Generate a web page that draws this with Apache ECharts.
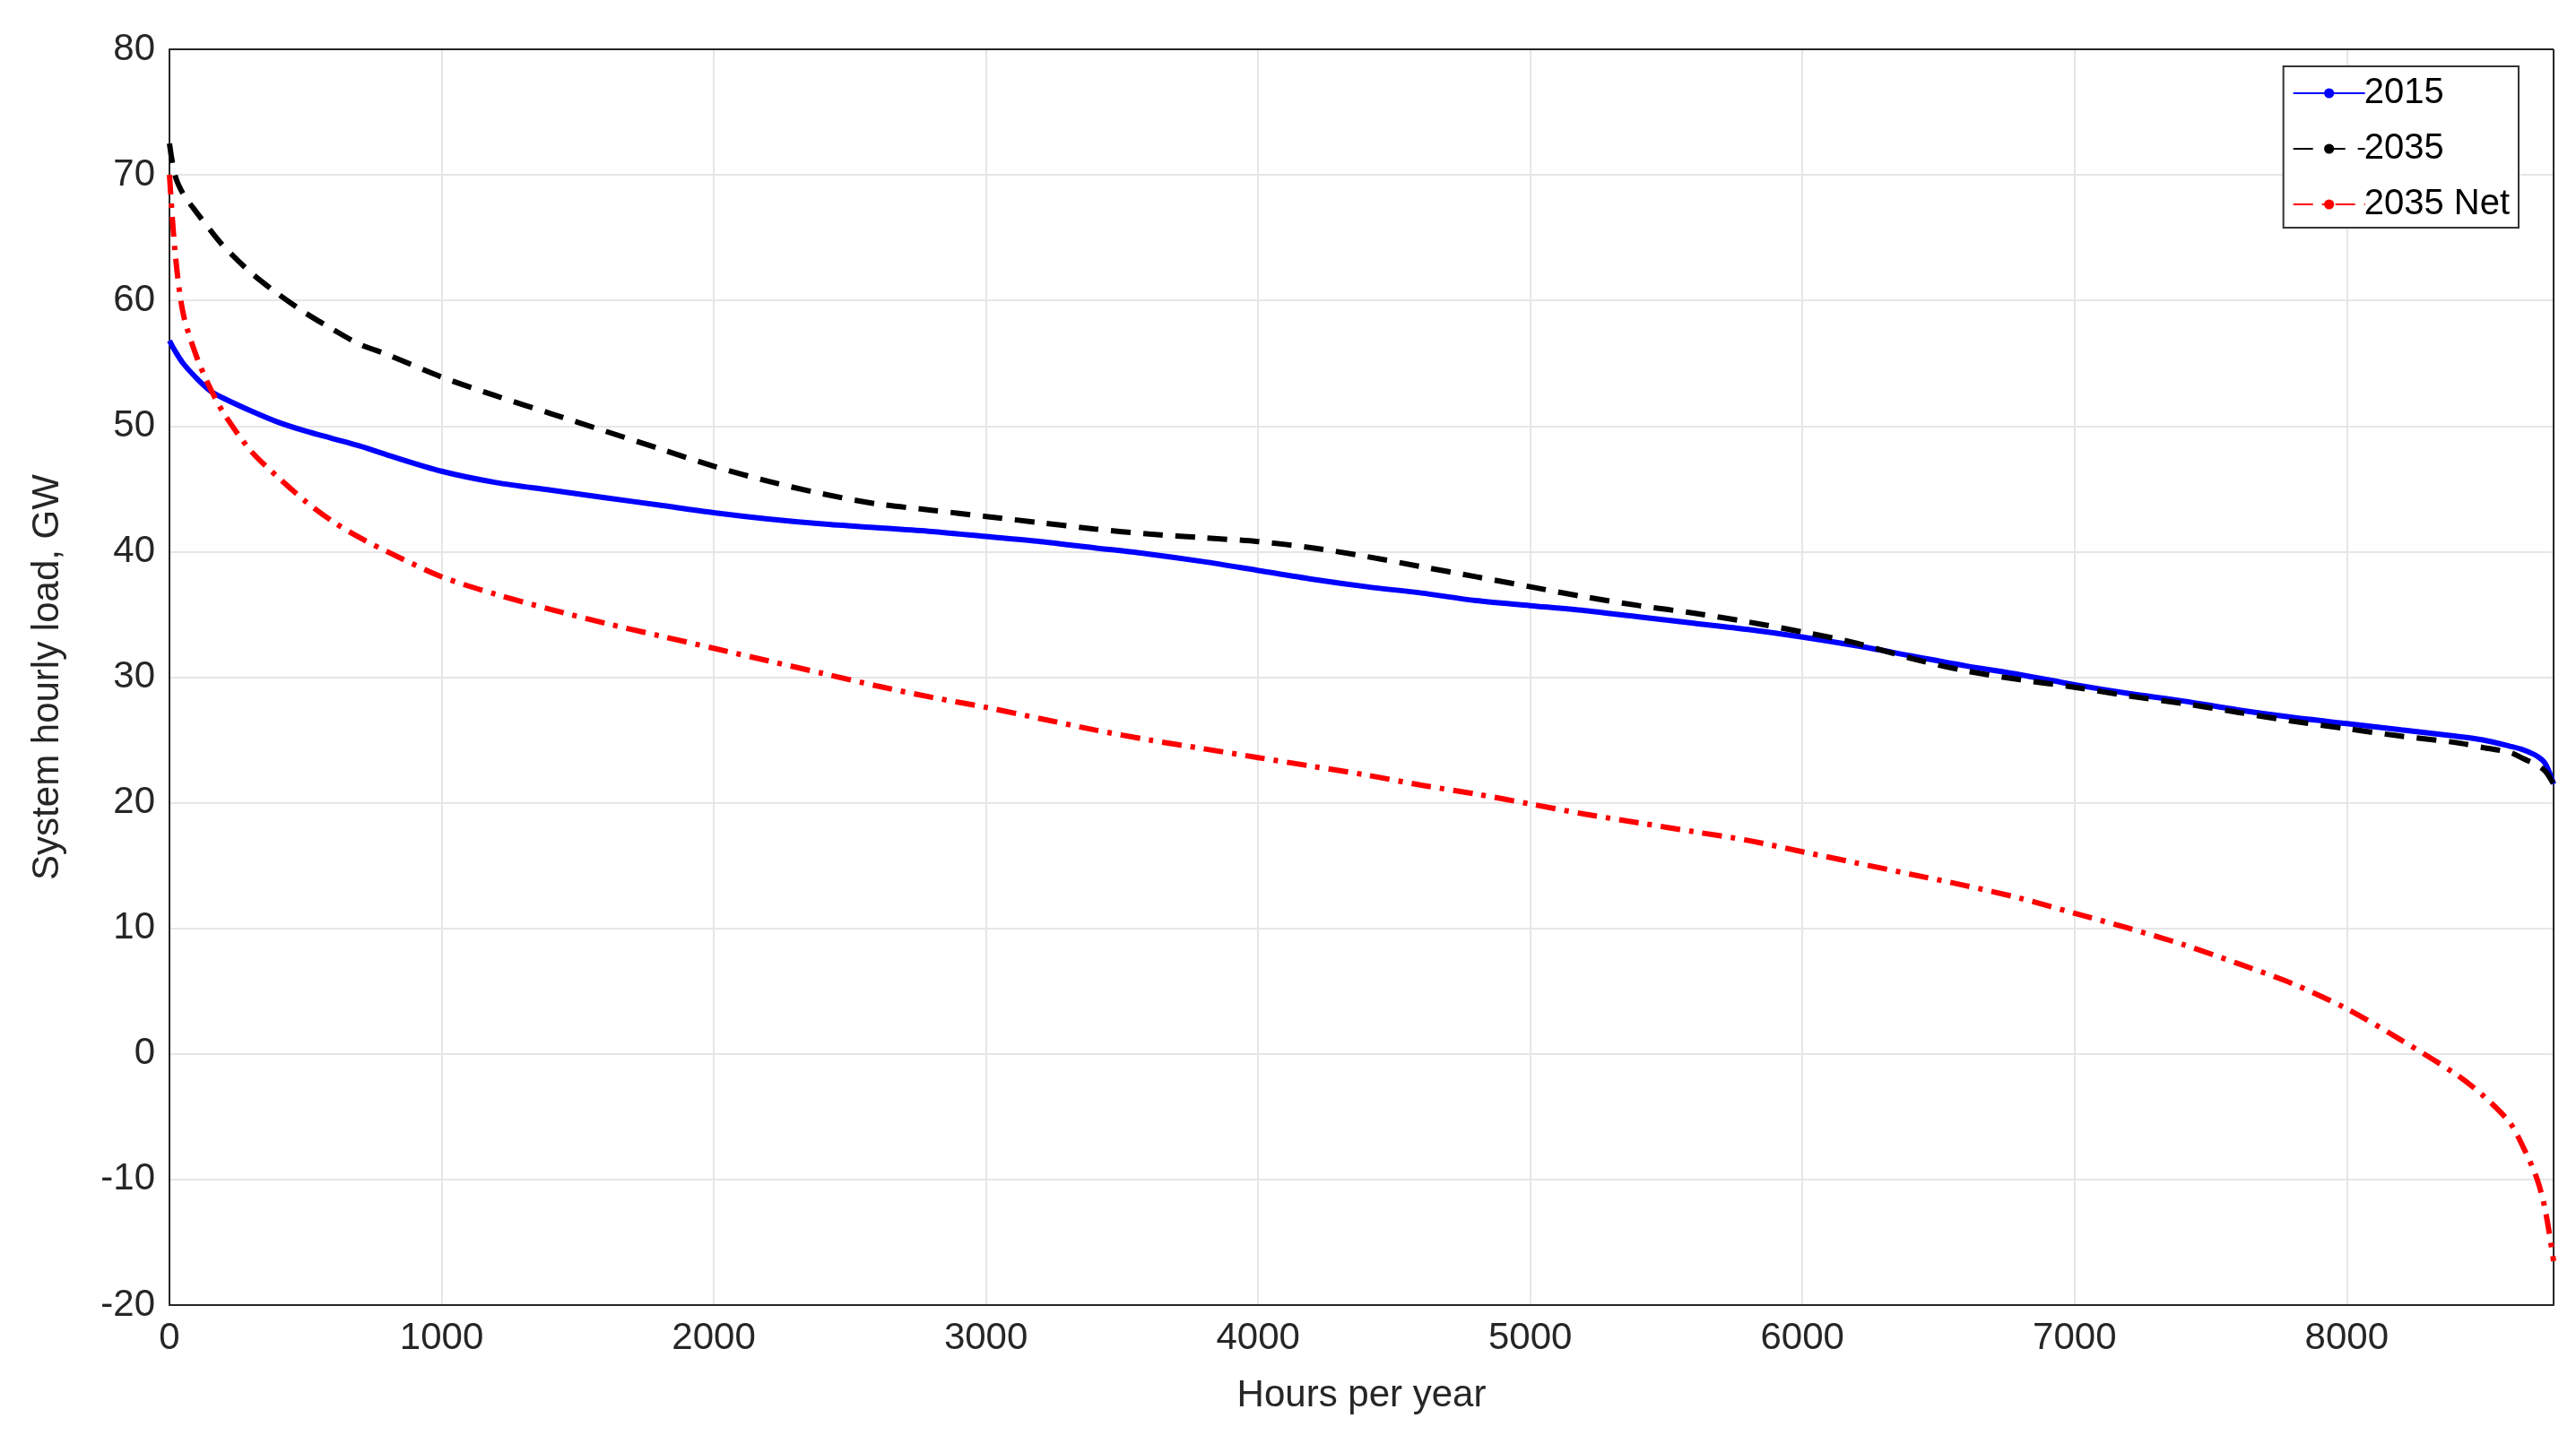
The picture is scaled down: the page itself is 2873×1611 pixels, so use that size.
<!DOCTYPE html><html><head><meta charset="utf-8"><script src="https://cdn.jsdelivr.net/npm/echarts@6/dist/echarts.min.js"></script>
<style>html,body{margin:0;background:#fff}#c{width:2873px;height:1611px}</style></head><body><div id="c"></div><script>
const hours=[0,20,50,100,150,200,300,400,500,600,700,800,1000,1200,1400,1600,1800,2000,2200,2400,2600,2800,3000,3200,3400,3600,3800,4000,4200,4400,4600,4800,5000,5200,5400,5600,5800,6000,6200,6400,6600,6800,7000,7200,7400,7600,7800,8000,8200,8400,8500,8600,8650,8700,8730,8760];
const s2015=[56.8,56,55,53.8,52.8,52.2,51.2,50.3,49.6,49,48.4,47.7,46.4,45.5,44.9,44.3,43.7,43.1,42.6,42.2,41.9,41.6,41.2,40.8,40.3,39.8,39.2,38.5,37.8,37.2,36.7,36.1,35.7,35.3,34.8,34.3,33.8,33.2,32.5,31.7,30.9,30.2,29.4,28.7,28.1,27.4,26.8,26.3,25.8,25.3,25,24.5,24.2,23.7,23.1,21.5];
const s2035=[72.5,70,68.5,67,65.6,64.3,62.2,60.5,59,57.7,56.5,55.7,53.9,52.4,51,49.6,48.2,46.8,45.6,44.6,43.8,43.3,42.8,42.3,41.8,41.4,41.1,40.8,40.3,39.6,38.8,38,37.2,36.4,35.7,35.1,34.4,33.6,32.7,31.5,30.5,29.8,29.2,28.5,27.9,27.2,26.5,25.9,25.3,24.8,24.4,24,23.5,23,22.5,21.5];
const s2035net=[70,64,59,55.5,53,51,48,45.9,44,42.4,41.1,40,38,36.6,35.4,34.3,33.3,32.3,31.3,30.3,29.3,28.4,27.6,26.7,25.8,25,24.3,23.6,22.9,22.2,21.4,20.7,19.9,19.1,18.4,17.7,17,16.1,15.2,14.3,13.4,12.4,11.2,10,8.7,7.2,5.6,3.6,1.1,-1.6,-3.3,-5.5,-7.5,-10,-12.5,-16.5];
const yTicks=[-20,-10,0,10,20,30,40,50,60,70,80];
const xTicks=[0,1000,2000,3000,4000,5000,6000,7000,8000];
const mk=a=>hours.map((h,i)=>[h,a[i]]);
const F='Helvetica, "Liberation Sans", Arial, sans-serif';
const c=echarts.init(document.getElementById('c'));
c.setOption({animation:false,
grid:{left:189,right:25,top:55,bottom:155},
legend:{right:64,top:74,orient:'vertical',itemWidth:80,itemHeight:14,itemGap:22,backgroundColor:'#fff',borderColor:'#333',borderWidth:2,padding:[10,10,6,10],textStyle:{fontSize:40,fontFamily:F,color:'#000',padding:[0,0,0,-6]},data:['2015','2035','2035 Net']},
xAxis:{type:'value',min:0,max:8760,interval:1000,name:'Hours per year',nameLocation:'middle',nameGap:80,nameTextStyle:{fontSize:42,fontFamily:F,color:'#262626'},
axisLine:{onZero:false,lineStyle:{color:'#262626',width:2}},axisTick:{show:false},axisLabel:{fontSize:42,fontFamily:F,color:'#262626',margin:16,showMaxLabel:false,formatter:v=>String(v)},splitLine:{show:true,lineStyle:{color:'#e6e6e6',width:2}}},
yAxis:{type:'value',min:-20,max:80,interval:10,name:'System hourly load, GW',nameLocation:'middle',nameGap:115,nameTextStyle:{fontSize:42,fontFamily:F,color:'#262626'},
axisLine:{show:true,lineStyle:{color:'#262626',width:2}},axisTick:{show:false},axisLabel:{fontSize:42,fontFamily:F,color:'#262626',margin:16},splitLine:{lineStyle:{color:'#e6e6e6',width:2}}},
series:[
{name:'2015',type:'line',data:mk(s2015),symbol:'none',smooth:0.3,lineStyle:{color:'#0000ff',width:6},itemStyle:{color:'#0000ff'}},
{name:'2035',type:'line',data:mk(s2035),symbol:'none',smooth:0.3,lineStyle:{color:'#000',width:6,type:[22,14]},itemStyle:{color:'#000'}},
{name:'2035 Net',type:'line',data:mk(s2035net),symbol:'none',smooth:0.3,lineStyle:{color:'#ff0000',width:6,type:[22,10,5,10]},itemStyle:{color:'#ff0000'}},
{type:'line',data:[[8760,-20],[8760,80]],symbol:'none',silent:true,lineStyle:{color:'#262626',width:2},z:1},
{type:'line',data:[[0,80],[8760,80]],symbol:'none',silent:true,lineStyle:{color:'#262626',width:2},z:1}
]});
</script></body></html>
